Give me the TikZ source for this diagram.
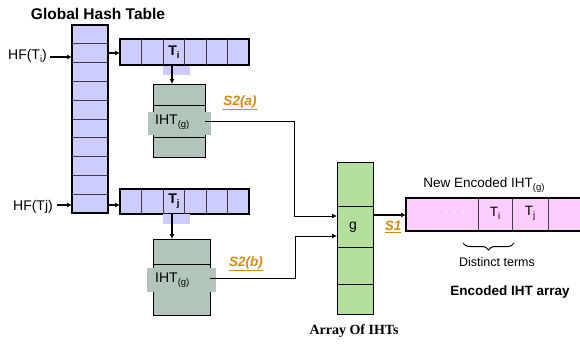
\documentclass[tikz,border=0pt]{standalone}
\usepackage{fontspec}
\setmainfont{Liberation Sans}
\newfontfamily\timesb{Liberation Serif}
\usetikzlibrary{arrows.meta,decorations.pathreplacing,calc}
\definecolor{lav}{RGB}{204,204,255}
\definecolor{ihtc}{RGB}{178,197,187}
\definecolor{grn}{RGB}{180,222,155}
\definecolor{pnk}{RGB}{252,204,252}
\definecolor{org}{RGB}{212,138,16}
\definecolor{divc}{RGB}{60,60,70}
\newcommand\mysub[1]{\raisebox{-0.45ex}{\fontsize{9.5}{9.5}\selectfont #1}}
\newcommand\fs[1]{\fontsize{#1}{#1}\selectfont}
\begin{document}
\begin{tikzpicture}[x=1pt,y=-1pt,
  arr/.style={-{Latex[length=5pt,width=5pt]}, line width=1.3pt},
  arrthin/.style={-{Latex[length=5pt,width=5pt]}, line width=1pt},
  box/.style={draw, inner sep=0pt, outer sep=0pt, anchor=north west},
  txt/.style={inner sep=0pt, font=\fs{13}},
  lbl/.style={inner sep=0pt, text=org, font=\fs{13.5}\bfseries\itshape},
  divline/.style={line width=0.8pt, draw=divc}]
\useasboundingbox (0,0) rectangle (580,343);

% Global hash table
\node[txt, font=\fs{15.5}\bfseries] (title) at (98,14) {Global Hash Table};
\node[box, fill=lav, line width=2pt, minimum width=36pt, minimum height=188pt] (ght) at (72,25) {};
\foreach \k in {1,...,9}
  \draw[divline] ($(ght.north west)+(1,\k*18.8)$) -- ++(34,0);

% HF labels
\node[txt, anchor=east, font=\fs{14}] (hfi) at (47,56) {HF(T\mysub{i})};
\node[txt, anchor=east, font=\fs{14}] (hfj) at (53,207) {HF(Tj)};
\draw[arr] ($(hfi.east)+(3,1)$) -- ($(hfi.east -| ght.west)+(0,1)$);
\draw[arr] ($(hfj.east)+(4,-2)$) -- ($(hfj.east -| ght.west)+(0,-2)$);

% list i
\node[box, fill=lav, line width=1.6pt, minimum width=129pt, minimum height=26pt] (li) at (120,39) {};
\foreach \k in {1,...,5}
  \draw[divline] ($(li.north west)+(\k*21.5,0)$) -- ++(0,26);
\node[txt, font=\fs{14}\bfseries] (ti) at (174,52) {T\mysub{i}};
\node[inner sep=0pt, text=white, font=\fs{10}] at (152,51) {.};
\draw[arr] (ght.east |- 0,53) -- (li.west |- 0,53);
\fill[lav] (163,66) rectangle (190,75);

% list j
\node[box, fill=lav, line width=1.6pt, minimum width=129pt, minimum height=25pt] (lj) at (120,189) {};
\foreach \k in {1,...,5}
  \draw[divline] ($(lj.north west)+(\k*21.5,0)$) -- ++(0,25);
\node[txt, font=\fs{14}\bfseries] (tj) at (174,201) {T\mysub{j}};
\node[inner sep=0pt, text=white, font=\fs{10}] at (152,199) {.};
\draw[arr] (ght.east |- 0,205) -- (lj.west |- 0,205);
\fill[lav] (163,214) rectangle (190,224);

% IHT box a
\node[box, fill=ihtc, line width=1pt, minimum width=52pt, minimum height=73pt] (ihta) at (153,84) {};
\draw[line width=0.8pt] (153,105) -- (205,105);
\draw[line width=0.8pt] (153,137) -- (205,137);
\fill[ihtc] (148,112) rectangle (211,135);
\node[txt, anchor=west, font=\fs{14}] (iha) at (155,122) {IHT\mysub{(g)}};
\draw[arr] (li.south -| 172,0) -- (ihta.north -| 172,0);

% IHT box b
\node[box, fill=ihtc, line width=1pt, minimum width=57pt, minimum height=76pt] (ihtb) at (153,239) {};
\draw[line width=0.8pt] (153,264) -- (210,264);
\fill[ihtc] (147,268) rectangle (216,292);
\node[txt, anchor=west, font=\fs{14}] (ihb) at (155,280) {IHT\mysub{(g)}};
\draw[arr] (lj.south -| 172,0) -- (ihtb.north -| 172,0);

% Array of IHTs
\node[box, fill=grn, line width=1pt, minimum width=36pt, minimum height=152pt] (aoi) at (337,162) {};
\foreach \yy in {206,247,284}
  \draw[line width=0.8pt] (337,\yy) -- (373,\yy);
\node[txt, font=\fs{14}] (g) at (353,227) {g};
\node[inner sep=0pt, font=\fs{14}\timesb\bfseries] (aoit) at (354,331) {Array Of IHTs};
\coordinate (ga) at (aoi.west |- 0,216);
\coordinate (gb) at (aoi.west |- 0,236);

% S2 connectors
\draw[arrthin] (ihta.east |- 0,121) -| (294,216) -- (ga);
\draw[arrthin] (ihtb.east |- 0,278) -| (295,236) -- (gb);
\node[lbl] (s2a) at (240,103) {\underline{S2(a)}};
\node[lbl] (s2b) at (246,264) {\underline{S2(b)}};

% Encoded IHT
\node[box, fill=pnk, line width=1.8pt, minimum width=180pt, minimum height=33pt] (enc) at (406,198) {};
\foreach \xx in {478,512,548}
  \draw[divline] (\xx,199) -- (\xx,230);
\node[txt, text=white] (dots) at (455,212) {. . .};
\node[txt, font=\fs{13.5}] (eti) at (495,213) {T\mysub{i}};
\node[txt, font=\fs{13.5}] (etj) at (530,213) {T\mysub{j}};
\node[txt, font=\fs{13.5}] (newenc) at (484,185) {New Encoded IHT\mysub{(g)}};
\draw[arr] (aoi.east |- 0,215) -- (enc.west |- 0,215);
\node[lbl] (s1) at (393,227) {\underline{S1}};

\draw[line width=1pt, decorate, decoration={brace, amplitude=7pt, mirror}] (463,243) -- (514,243);
\node[txt, font=\fs{12.5}] (dt) at (497,262) {Distinct terms};
\node[txt, font=\fs{13.5}\bfseries] (eia) at (510,292) {Encoded IHT array};
\end{tikzpicture}
\end{document}
